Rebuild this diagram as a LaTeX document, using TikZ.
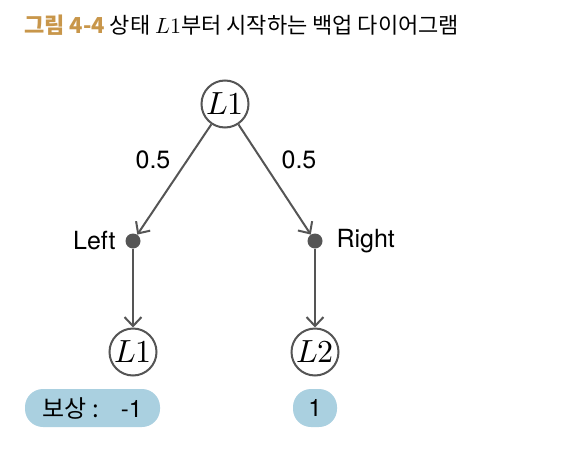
\documentclass[tikz,border=0pt]{standalone}
\usepackage{fontspec}
\usepackage{unicode-math}
\setmathfont{Latin Modern Math}
\setmainfont{TeX Gyre Heros}
\newfontfamily\kr{Noto Sans CJK KR}
\usetikzlibrary{arrows.meta}
\definecolor{linegray}{HTML}{555555}
\definecolor{gold}{HTML}{C8964A}
\definecolor{pill}{HTML}{AAD0E0}
\tikzset{
  state/.style={circle, draw=linegray, line width=2pt, minimum size=47pt, inner sep=0pt, fill=white, font=\fontsize{32}{32}\selectfont},
  actdot/.style={circle, fill=linegray, minimum size=15pt, inner sep=0pt},
  conn/.style={draw=linegray, line width=2pt, -{Straight Barb[length=9pt,width=17pt,line width=2pt]}},
  lbl/.style={font=\fontsize{25}{25}\selectfont, text=black},
  reward/.style={rounded corners=18pt, fill=pill, minimum height=38pt, inner sep=0pt, font=\fontsize{24}{24}\selectfont}
}
\begin{document}
\begin{tikzpicture}[x=1pt,y=-1pt]
\useasboundingbox (0,0) rectangle (567,455);
\node[anchor=base west, inner sep=0pt] (title) at (24,33) {\kr\fontsize{22}{22}\selectfont{\bfseries\color{gold}그림 4-4} 상태 $L1$부터 시작하는 백업 다이어그램};
\node[state] (s0) at (225,104) {$L1$};
\node[actdot] (left) at (133,241) {};
\node[actdot] (right) at (315,241) {};
\node[state] (s1) at (133,352) {$L1$};
\node[state] (s2) at (315,352) {$L2$};
\draw[conn] (s0) -- (left);
\draw[conn] (s0) -- (right);
\draw[conn] (left) -- (s1);
\draw[conn] (right) -- (s2);
\node[lbl] (p1) at (153,160) {0.5};
\node[lbl] (p2) at (299,160) {0.5};
\node[lbl, anchor=east] (lt) at (119,241) {Left};
\node[lbl, anchor=west] (rt) at (333,241) {Right};
\node[reward, minimum width=135pt] (r1) at (92.5,408) {\kr\fontsize{24}{24}\selectfont 보상 :\hspace{22pt}\fontspec{TeX Gyre Heros}-1};
\node[reward, minimum width=44pt] (r2) at (315,408) {1};
\end{tikzpicture}
\end{document}
